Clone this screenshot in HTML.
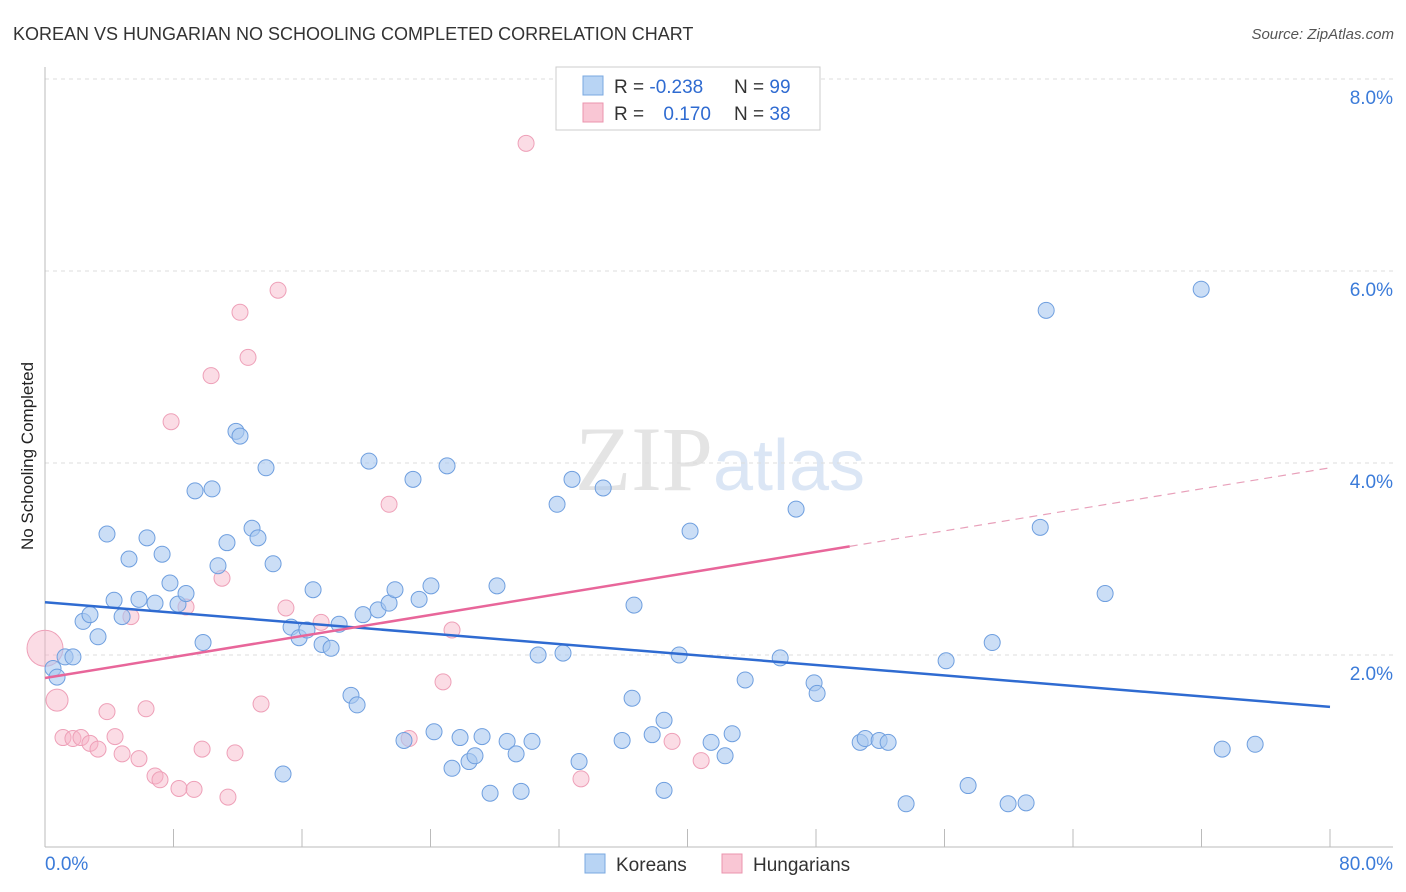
<!DOCTYPE html>
<html><head><meta charset="utf-8">
<style>
body{margin:0;background:#fff;font-family:"Liberation Sans",sans-serif;}
svg{display:block}
</style></head>
<body>
<svg id="chart" width="1406" height="892">
<text x="13" y="40" font-size="18" fill="#333">KOREAN VS HUNGARIAN NO SCHOOLING COMPLETED CORRELATION CHART</text>
<text x="1394" y="39" font-size="15" fill="#555" text-anchor="end" font-style="italic">Source: ZipAtlas.com</text>
<text x="33" y="456" font-size="17" fill="#222" text-anchor="middle" transform="rotate(-90 33 456)">No Schooling Completed</text>
<text x="720" y="490" font-size="92" fill="#e4e4e4" text-anchor="middle" font-family="Liberation Serif,serif">ZIP<tspan fill="#dbe6f5" font-family="Liberation Sans,sans-serif" font-size="72">atlas</tspan></text>
<g id="grid"></g>
<g id="axes"></g>
<g id="pts"></g>
<g id="lines"></g>
<g>
<rect x="556" y="67" width="264" height="63" fill="#fff" stroke="#ccc"/>
<rect x="583" y="76" width="20" height="19" fill="#b8d4f4" stroke="#7aa8e0"/>
<rect x="583" y="103" width="20" height="19" fill="#f9c6d4" stroke="#eb94ae"/>
<text x="614" y="93" font-size="19" fill="#333">R = <tspan fill="#2f6bd1">-0.238</tspan></text>
<text x="734" y="93" font-size="19" fill="#333">N = <tspan fill="#2f6bd1">99</tspan></text>
<text x="614" y="120" font-size="19" fill="#333">R = <tspan fill="#2f6bd1" dx="14">0.170</tspan></text>
<text x="734" y="120" font-size="19" fill="#333">N = <tspan fill="#2f6bd1">38</tspan></text>
</g>
<g>
<rect x="585" y="854" width="20" height="19" fill="#b8d4f4" stroke="#7aa8e0"/>
<text x="616" y="871" font-size="19" fill="#333">Koreans</text>
<rect x="722" y="854" width="20" height="19" fill="#f9c6d4" stroke="#eb94ae"/>
<text x="753" y="871" font-size="19" fill="#333">Hungarians</text>
</g>
</svg>
<script>
const korX=[0.5,0.75,1.25,1.74,2.37,2.8,3.3,3.86,4.3,4.8,5.23,5.85,6.35,6.85,7.29,7.78,8.28,8.78,9.34,9.84,10.4,10.77,11.33,11.89,12.14,12.89,13.26,13.76,14.2,14.82,15.32,15.82,16.31,16.69,17.25,17.81,18.31,19.05,19.43,19.8,20.17,20.73,21.42,21.79,22.35,22.91,23.29,24.03,24.22,25.03,25.34,25.84,26.4,26.77,27.21,27.71,28.14,28.77,29.33,29.64,30.32,30.7,31.88,32.25,32.81,33.25,34.75,35.93,36.55,36.67,37.8,38.54,38.54,39.48,40.16,41.47,42.34,42.78,43.59,45.77,46.76,47.88,48.07,50.75,51.06,51.93,52.49,53.61,56.1,57.47,58.97,59.96,61.08,61.96,62.33,66.0,71.98,73.29,75.34];
const korY=[1.86,1.77,1.98,1.98,2.35,2.42,2.19,3.26,2.57,2.4,3.0,2.58,3.22,2.54,3.05,2.75,2.53,2.64,3.71,2.13,3.73,2.93,3.17,4.33,4.28,3.32,3.22,3.95,2.95,0.76,2.29,2.18,2.26,2.68,2.11,2.07,2.32,1.58,1.48,2.42,4.02,2.47,2.54,2.68,1.11,3.83,2.58,2.72,1.2,3.97,0.82,1.14,0.89,0.95,1.15,0.56,2.72,1.1,0.97,0.58,1.1,2.0,3.57,2.02,3.83,0.89,3.74,1.11,1.55,2.52,1.17,1.32,0.59,2.0,3.29,1.09,0.95,1.18,1.74,1.97,3.52,1.71,1.6,1.09,1.13,1.11,1.09,0.45,1.94,0.64,2.13,0.45,0.46,3.33,5.59,2.64,5.81,1.02,1.07];
const hunX=[0,0.75,1.12,1.74,2.24,2.8,3.3,3.86,4.36,4.8,5.35,5.85,6.29,6.85,7.16,7.85,8.34,8.78,9.28,9.78,10.34,11.02,11.39,11.83,12.14,12.64,13.45,14.51,15.0,17.19,21.42,22.67,24.78,25.34,29.95,33.37,39.04,40.85];
const hunY=[2.07,1.53,1.14,1.13,1.14,1.08,1.02,1.41,1.15,0.97,2.4,0.92,1.44,0.74,0.7,4.43,0.61,2.5,0.6,1.02,4.91,2.8,0.52,0.98,5.57,5.1,1.49,5.8,2.49,2.34,3.57,1.13,1.72,2.26,7.33,0.71,1.1,0.9];
const hunR=[18,11];
const korTrend=[2.55,1.46];
const hunTrend=[1.76,3.95];
const hunSolidEnd=50.1;
const yTicks=[2,4,6,8];
const xTickCount=10;
const NS='http://www.w3.org/2000/svg';
const X=v=>45+v*(1330-45)/80;
const Y=v=>847-v*96;
function mk(tag,attrs,parent){const e=document.createElementNS(NS,tag);for(const k in attrs)e.setAttribute(k,attrs[k]);parent.appendChild(e);return e;}
const grid=document.getElementById('grid'),axes=document.getElementById('axes'),pts=document.getElementById('pts'),lines=document.getElementById('lines');
yTicks.forEach(t=>{
 const l=mk('line',{x1:45,x2:1393,y1:Y(t),y2:Y(t),stroke:'#ddd','stroke-dasharray':'4,4'},grid);
 
 
 const tx=mk('text',{x:1393,y:Y(t)+25,'font-size':19,fill:'#3b7bd9','text-anchor':'end'},grid);
 tx.textContent=t.toFixed(1)+'%';
 
 
});
mk('line',{x1:45,x2:45,y1:67,y2:847,stroke:'#bbb'},axes);
mk('line',{x1:45,x2:1393,y1:847,y2:847,stroke:'#bbb'},axes);
for(let i=0;i<=xTickCount;i++){const xv=X(i*8);mk('line',{x1:xv,x2:xv,y1:829,y2:847,stroke:'#bbb'},axes);}
const xl0=mk('text',{x:45,y:870,'font-size':19,fill:'#3b7bd9'},axes);xl0.textContent='0.0%';


const xl1=mk('text',{x:1393,y:870,'font-size':19,fill:'#3b7bd9','text-anchor':'end'},axes);xl1.textContent='80.0%';


hunX.forEach((v,i)=>{
 const c=mk('circle',{cx:X(v),cy:Y(hunY[i]),r:hunR[i]||8,fill:'rgba(246,178,198,0.45)',stroke:'#eea0b8','stroke-width':1},pts);
 
 
});
korX.forEach((v,i)=>{
 const c=mk('circle',{cx:X(v),cy:Y(korY[i]),r:8,fill:'rgba(168,200,240,0.6)',stroke:'#6f9fdf','stroke-width':1},pts);
 
 
});
const kl=mk('line',{x1:X(0),y1:Y(korTrend[0]),x2:X(80),y2:Y(korTrend[1]),stroke:'#2f6bd1','stroke-width':2.5},lines);


const hm=hunTrend[0]+(hunTrend[1]-hunTrend[0])*hunSolidEnd/80;
const hl=mk('line',{x1:X(0),y1:Y(hunTrend[0]),x2:X(hunSolidEnd),y2:Y(hm),stroke:'#e8669a','stroke-width':2.5},lines);


const hd=mk('line',{x1:X(hunSolidEnd),y1:Y(hm),x2:X(80),y2:Y(hunTrend[1]),stroke:'#e8a0ba','stroke-width':1.2,'stroke-dasharray':'8,6'},lines);


</script>
</body></html>
